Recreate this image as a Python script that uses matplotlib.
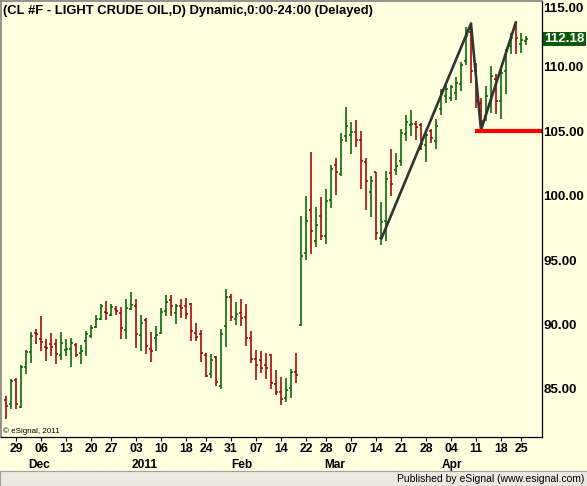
"""Daily OHLC bars for light crude (CL #F), Nov 2010 - Apr 2011, eSignal style."""

import matplotlib

matplotlib.use("Agg")
import matplotlib.pyplot as plt  # noqa: E402
from matplotlib.patches import Rectangle  # noqa: E402

# ---- data ----
opens = [84.15, 83.81, 85.70, 83.60, 86.71, 87.87, 89.35, 88.85, 88.26, 88.47,
         88.51, 87.61, 88.02, 88.12, 88.41, 87.77, 88.72, 89.11, 89.83, 90.40,
         90.97, 90.74, 91.17, 90.87, 89.57, 91.17, 91.43, 89.19, 90.35, 88.08,
         88.93, 89.32, 91.05, 91.88, 90.87, 91.43, 91.43, 91.56, 89.32, 89.24,
         87.64, 86.14, 87.48, 85.23, 89.88, 92.13, 90.40, 90.87, 90.58, 88.93,
         87.30, 87.22, 86.86, 87.64, 85.36, 84.77, 84.33, 85.10, 86.32, 89.94,
         95.57, 98.88, 96.52, 98.41, 96.91, 99.70, 102.36, 101.69, 104.61, 104.74,
         104.92, 104.36, 102.60, 100.27, 101.82, 96.73, 98.02, 101.77, 101.98, 102.67,
         104.82, 105.47, 105.57, 105.47, 103.91, 105.00, 104.22, 106.71, 107.71, 107.56,
         107.95, 108.64, 110.43, 112.75, 109.65, 107.17, 106.16, 107.33, 109.03, 107.33,
         109.65, 111.59, 113.14, 111.82, 111.98]
highs = [84.46, 85.75, 85.83, 86.86, 88.00, 89.42, 89.63, 90.66, 88.85, 89.34,
         88.90, 89.42, 88.85, 88.98, 88.57, 88.41, 89.50, 89.94, 90.74, 91.56,
         91.82, 91.56, 91.43, 91.36, 92.00, 92.52, 91.95, 90.74, 90.48, 89.42,
         89.88, 91.27, 92.29, 92.29, 91.56, 91.95, 92.08, 91.69, 90.14, 89.57,
         87.82, 87.69, 87.56, 89.63, 92.78, 92.34, 91.74, 91.95, 91.56, 89.50,
         88.00, 87.95, 87.82, 87.69, 86.47, 85.93, 85.83, 86.53, 87.82, 98.41,
         99.96, 103.37, 99.11, 99.88, 100.56, 102.36, 102.93, 104.87, 106.88, 105.70,
         105.85, 105.00, 102.93, 101.51, 101.85, 99.50, 101.90, 103.63, 103.32, 105.18,
         106.24, 106.63, 105.83, 105.62, 104.92, 105.16, 105.93, 108.26, 108.57, 108.57,
         109.19, 110.35, 113.14, 113.37, 110.27, 107.56, 108.49, 110.04, 109.42, 109.88,
         111.43, 112.60, 113.53, 112.60, 112.44]
lows = [82.65, 83.47, 83.42, 83.50, 86.14, 87.04, 88.47, 87.95, 87.17, 87.56,
        86.96, 87.25, 87.56, 86.74, 87.50, 86.91, 87.56, 88.93, 89.75, 90.32,
        90.35, 90.66, 90.71, 88.90, 88.85, 91.10, 88.21, 87.95, 87.74, 87.12,
        87.95, 89.24, 90.66, 90.66, 90.01, 90.53, 90.40, 88.72, 88.72, 87.12,
        85.95, 85.88, 85.23, 84.98, 88.26, 90.27, 89.96, 89.88, 88.33, 87.04,
        85.70, 86.27, 85.80, 84.98, 84.52, 83.74, 84.02, 84.28, 85.49, 89.88,
        95.05, 95.49, 96.03, 96.60, 96.26, 99.06, 100.04, 101.51, 104.17, 103.24,
        103.78, 100.53, 98.93, 98.36, 96.60, 96.14, 96.52, 100.01, 101.64, 102.29,
        104.22, 104.61, 104.36, 103.53, 102.60, 104.07, 103.60, 106.24, 107.17, 107.33,
        107.40, 108.10, 110.12, 108.72, 106.78, 105.16, 105.78, 106.40, 106.32, 105.93,
        107.87, 110.97, 110.97, 111.05, 111.67]
closes = [83.65, 85.64, 83.86, 86.71, 87.89, 89.11, 89.25, 88.64, 88.16, 88.26,
          87.69, 88.57, 88.12, 88.54, 87.61, 87.95, 89.29, 89.75, 90.40, 91.43,
          90.87, 91.38, 91.05, 89.70, 91.27, 91.51, 89.24, 90.14, 88.33, 87.95,
          89.19, 90.97, 91.76, 91.43, 91.43, 91.30, 90.79, 89.50, 89.06, 87.82,
          86.01, 87.22, 85.54, 89.24, 92.13, 90.61, 90.79, 90.48, 88.93, 87.30,
          86.84, 86.60, 86.60, 85.44, 84.77, 84.20, 84.90, 86.32, 86.06, 95.36,
          98.02, 97.25, 97.76, 96.91, 99.57, 102.11, 101.82, 104.36, 105.39, 104.92,
          104.30, 102.67, 101.12, 101.12, 97.07, 97.95, 101.33, 100.95, 102.29, 104.87,
          105.70, 105.57, 105.34, 103.99, 104.69, 104.46, 105.39, 108.10, 108.26, 108.41,
          108.72, 110.19, 112.44, 109.65, 107.33, 105.78, 107.71, 109.26, 107.33, 109.50,
          111.20, 112.21, 112.21, 112.13, 112.18]

# day ticks: (bar number, label)
day_ticks = [3, 8, 13, 18, 22, 27, 32, 37, 41, 46, 51, 56, 61, 65, 70, 75, 80, 85, 90, 95, 100, 104]
day_labels = ["29", "06", "13", "20", "27", "03", "10", "18", "24", "31", "07",
              "14", "22", "28", "07", "14", "21", "28", "04", "11", "18", "25"]
month_labels = ["Dec", "2011", "Feb", "Mar", "Apr"]
month_pos = [7.6, 28.7, 48.2, 66.7, 90.2]

price_ticks = [85, 90, 95, 100, 105, 110, 115]

# drawn studies: zigzag swing line and support level
zigzag_x = [76, 94, 96, 103]
zigzag_y = [96.6, 113.37, 105.1, 113.5]
support_level = 105.0
support_start = 94.8

BG = "#ffffe0"
UP = "#006400"
DOWN = "#a00000"
FONT = "Liberation Sans"

W, H = 587, 486
fig = plt.figure(figsize=(W / 100, H / 100), dpi=100)
fig.patch.set_facecolor(BG)
# plot box in pixels: x 1..542, y 1..437
ax = fig.add_axes([1 / W, (H - 437) / H, 541 / W, 436 / H])
ax.set_facecolor(BG)

n = len(closes)
xs = list(range(1, n + 1))
cols = [UP if c >= o else DOWN for o, c in zip(opens, closes)]
ax.vlines(xs, lows, highs, colors=cols, lw=1.15)
ax.hlines(opens, [x - 0.35 for x in xs], xs, colors=cols, lw=1.15)
ax.hlines(closes, xs, [x + 0.35 for x in xs], colors=cols, lw=1.15)

ax.plot(zigzag_x, zigzag_y, color="#333333", lw=1.9, solid_capstyle="butt")
ax.plot([support_start, 200], [support_level, support_level], color="#ff0000", lw=3.0,
        solid_capstyle="butt")

ax.set_xlim(0, 108.2)
ax.set_ylim(81.27, 115.12)

for side in ("left", "top"):
    ax.spines[side].set_color("#808080")
    ax.spines[side].set_linewidth(1.2)
for side in ("right", "bottom"):
    ax.spines[side].set_color("black")
    ax.spines[side].set_linewidth(0.9)

ax.yaxis.tick_right()
ax.set_yticks(price_ticks)
ax.set_yticklabels([f"{p:.2f}" for p in price_ticks], fontfamily=FONT,
                   fontweight="bold", fontsize=9.6)
ax.tick_params(axis="y", length=0, pad=1)
for lbl in ax.get_yticklabels():
    if lbl.get_text() == "115.00":
        lbl.set_verticalalignment("top")
        lbl.set_y(114.9)

ax.set_xticks(day_ticks)
ax.set_xticklabels(day_labels, fontfamily=FONT, fontweight="bold", fontsize=8.8)
ax.tick_params(axis="x", length=3, width=0.8, pad=1.5, color="black")

for lab, pos in zip(month_labels, month_pos):
    ax.text(pos, -0.064, lab, transform=ax.get_xaxis_transform(), ha="center", va="center",
            fontfamily=FONT, fontweight="bold", fontsize=8.6)

ax.text(0.004, 0.014, "\u00a9 eSignal, 2011", transform=ax.transAxes,
        fontfamily=FONT, fontsize=5.8, va="center", ha="left")

ax.text(0.003, 0.977, "(CL #F - LIGHT CRUDE OIL,D) Dynamic,0:00-24:00 (Delayed)",
        transform=ax.transAxes, fontfamily=FONT, fontweight="bold", fontsize=9.4,
        va="center", ha="left")

# last price box
ax.text(1.004, closes[-1], f"{closes[-1]:.2f}", transform=ax.get_yaxis_transform(),
        fontfamily=FONT, fontweight="bold", fontsize=9.6, color="white", va="center",
        ha="left", bbox=dict(boxstyle="square,pad=0.1", fc="#0a5a0a", ec="none"))

# status strip
fig.patches.append(Rectangle((0, 0), 1, (H - 471) / H, transform=fig.transFigure,
                             facecolor="#ebe9e0", edgecolor="#a0a0a0", lw=0.8))
fig.text(584 / W, (H - 479) / H, "Published by eSignal (www.esignal.com)", ha="right",
         va="center", fontfamily=FONT, fontsize=7.5)

fig.savefig("out.png", dpi=100, facecolor=BG)
